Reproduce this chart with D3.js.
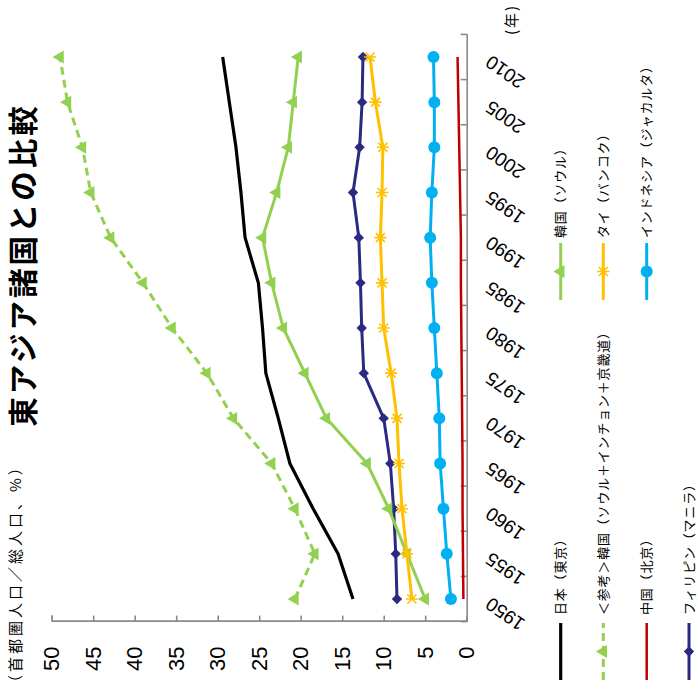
<!DOCTYPE html>
<html><head><meta charset="utf-8">
<script src="https://cdn.jsdelivr.net/npm/d3@7"></script>
<style>
html,body{margin:0;padding:0;background:#fff;}
svg{display:block;}
text{font-family:"Liberation Sans",Arial,sans-serif;}
.jp{font-family:"Noto Sans CJK JP","Noto Sans",sans-serif;}
</style></head>
<body>
<script>
const years = [1950,1955,1960,1965,1970,1975,1980,1985,1990,1995,2000,2005,2010];
const japanTokyo   = [13.7,15.5,18.5,21.3,22.7,24.2,24.6,25.1,26.7,27.2,27.8,28.6,29.4];
const koreaCapital = [20.7,18.3,20.7,23.5,28.1,31.3,35.5,39.0,42.9,45.3,46.3,48.1,49.0];
const chinaBeijing = [0.4,0.45,0.5,0.5,0.55,0.6,0.65,0.7,0.7,0.8,0.9,1.0,1.1];
const philManila   = [8.4,8.55,8.8,9.2,10.0,12.4,12.65,12.8,13.0,13.7,12.9,12.6,12.5];
const koreaSeoul   = [5.0,7.2,9.4,12.0,16.9,19.5,22.1,23.5,24.6,22.9,21.5,20.9,20.3];
const thaiBangkok  = [6.6,7.2,7.8,8.15,8.4,9.1,10.0,10.2,10.4,10.2,10.1,11.0,11.65];
const indoJakarta  = [1.9,2.4,2.8,3.2,3.3,3.6,3.9,4.2,4.4,4.2,3.9,3.9,4.0];
const valueTicks = [0,5,10,15,20,25,30,35,40,45,50];

const title = "東アジア諸国との比較";
const unitLabel = "（首都圏人口／総人口、%）";
const yearUnit = "(年)";

const series = [
  {name:"日本（東京）", values:japanTokyo, color:"#000000", width:3.2, dash:null, marker:"none", col:0, row:0},
  {name:"＜参考＞韓国（ソウル＋インチョン＋京畿道）", values:koreaCapital, color:"#92D050", width:3, dash:"8,5", marker:"triangle", col:0, row:1},
  {name:"中国（北京）", values:chinaBeijing, color:"#C00000", width:2.5, dash:null, marker:"none", col:0, row:2},
  {name:"フィリピン（マニラ）", values:philManila, color:"#2A2A80", width:3, dash:null, marker:"diamond", col:0, row:3},
  {name:"韓国（ソウル）", values:koreaSeoul, color:"#92D050", width:3, dash:null, marker:"triangle", col:1, row:0},
  {name:"タイ（バンコク）", values:thaiBangkok, color:"#FFC000", width:3, dash:null, marker:"star", col:1, row:1},
  {name:"インドネシア（ジャカルタ）", values:indoJakarta, color:"#00B0F0", width:3, dash:null, marker:"circle", col:1, row:2}
];

// Chart is drawn in its natural orientation, then the whole group is turned 90° CCW.
const W = 693, H = 698;
const svg = d3.select("body").append("svg").attr("width",698).attr("height",693);
const g = svg.append("g").attr("transform",`translate(0,${W}) rotate(-90)`);

const x = d3.scaleBand().domain(years).range([71.4, 658.6]);
const y = d3.scaleLinear().domain([0,50]).range([466.7, 51.7]);
const cx = d => x(d) + x.bandwidth()/2;
const axisColor = "#8a8a8a";

// Value axis
const yAxis = g.append("g").attr("transform",`translate(${x.range()[0]},0)`)
  .call(d3.axisLeft(y).tickValues(valueTicks).tickSize(-6).tickPadding(25).tickFormat(d3.format("d")));
yAxis.select(".domain").attr("stroke",axisColor).attr("stroke-width",1.6);
yAxis.selectAll(".tick line").attr("stroke",axisColor).attr("stroke-width",1.6);
yAxis.selectAll(".tick text").attr("font-size",22).attr("fill","#000")
  .attr("font-family","Liberation Sans, Arial, sans-serif");

// Category axis
const xAxis = g.append("g").attr("transform",`translate(0,${y(0)})`)
  .call(d3.axisBottom(x).tickSize(0).tickSizeOuter(0));
xAxis.select(".domain").attr("stroke",axisColor).attr("stroke-width",1.6);
xAxis.selectAll(".tick text").attr("font-size",19).attr("fill","#000")
  .attr("font-family","Liberation Sans, Arial, sans-serif")
  .attr("text-anchor","end").attr("x",0).attr("y",0).attr("dy",0)
  .attr("transform","translate(2.5,25) rotate(-55)");
const bounds = years.map(d => x(d)).concat([x.range()[1]]);
xAxis.selectAll(".bt").data(bounds).join("line").attr("class","bt")
  .attr("x1",d=>d).attr("x2",d=>d).attr("y1",0).attr("y2",-6)
  .attr("stroke",axisColor).attr("stroke-width",1.6);

// Marker drawing
const triPath = d3.symbol().type(d3.symbolTriangle).size(72)();
function drawMarker(sel, type, color){
  if(type==="triangle"){
    sel.append("path").attr("d",triPath).attr("fill",color);
  } else if(type==="circle"){
    sel.append("circle").attr("r",6).attr("fill",color);
  } else if(type==="diamond"){
    sel.append("path").attr("d","M0,-5.2L5.2,0L0,5.2L-5.2,0Z").attr("fill",color);
  } else if(type==="star"){
    sel.append("path").attr("d","M-4.5,-4.5L4.5,4.5M-4.5,4.5L4.5,-4.5M0,-6L0,6")
      .attr("stroke",color).attr("stroke-width",1.6).attr("fill","none");
  }
}

const line = d3.line().x((d,i)=>cx(years[i])).y(d=>y(d));
const plot = g.append("g");
series.forEach(s=>{
  plot.append("path").attr("d",line(s.values)).attr("fill","none")
    .attr("stroke",s.color).attr("stroke-width",s.width)
    .attr("stroke-dasharray",s.dash).attr("stroke-linejoin","round");
  if(s.marker!=="none"){
    s.values.forEach((v,i)=>{
      const m = plot.append("g").attr("transform",`translate(${cx(years[i])},${y(v)})`);
      drawMarker(m, s.marker, s.color);
    });
  }
});

// Titles
g.append("text").attr("class","jp").attr("x",428).attr("y",34)
  .attr("text-anchor","middle").attr("font-size",29.5).attr("font-weight","bold")
  .attr("letter-spacing",3).attr("fill","#000").text(title);
g.append("text").attr("class","jp").attr("x",3).attr("y",21)
  .attr("font-size",15).attr("letter-spacing",3).attr("fill","#000").text(unitLabel);
g.append("text").attr("class","jp").attr("x",658).attr("y",517)
  .attr("font-size",15).attr("letter-spacing",2).attr("fill","#000").text(yearUnit);

// Legend
const legRowY = [560.7, 603.3, 646.7, 689];
const legColX = [[13,70,78],[393,450,455]];
series.forEach(s=>{
  const [x1,x2,tx] = legColX[s.col];
  const ly = legRowY[s.row];
  const lg = g.append("g");
  lg.append("line").attr("x1",x1).attr("x2",x2).attr("y1",ly).attr("y2",ly)
    .attr("stroke",s.color).attr("stroke-width",s.width).attr("stroke-dasharray",s.dash);
  if(s.marker!=="none"){
    const m = lg.append("g").attr("transform",`translate(${(x1+x2)/2},${ly})`);
    drawMarker(m, s.marker, s.color);
  }
  lg.append("text").attr("class","jp").attr("x",tx).attr("y",ly+4.6)
    .attr("font-size",13).attr("letter-spacing",0.8).attr("fill","#000").text(s.name);
});
</script>
</body></html>
